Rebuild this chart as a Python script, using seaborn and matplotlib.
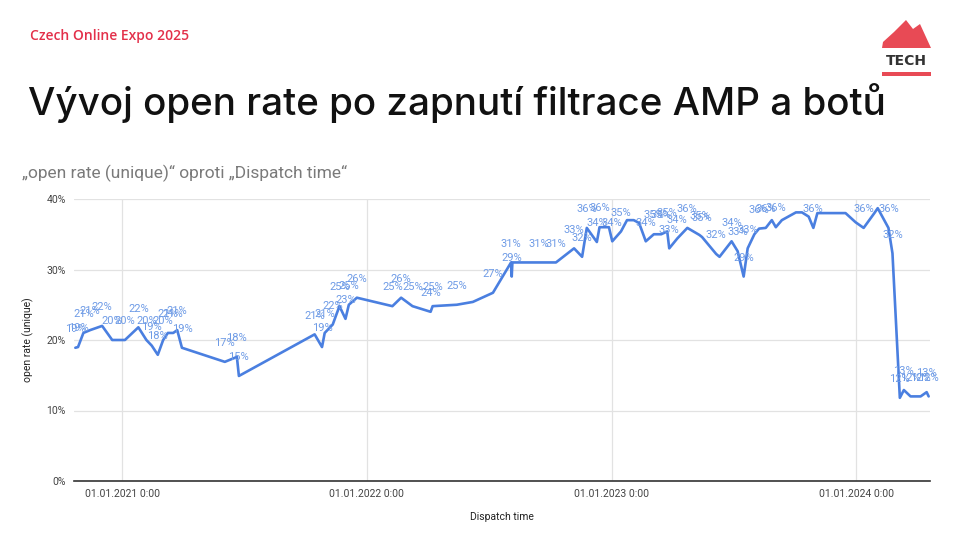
import matplotlib
matplotlib.use("Agg")
import matplotlib.pyplot as plt
import matplotlib.dates as mdates
from matplotlib.patches import Polygon, Rectangle
import seaborn as sns
import pandas as pd

# data (open rate in %)
dates = [
    "2020-10-23", "2020-10-27", "2020-11-04", "2020-11-14", "2020-12-02", "2020-12-17",
    "2021-01-05", "2021-01-25", "2021-02-06", "2021-02-14", "2021-02-23", "2021-03-03",
    "2021-03-10", "2021-03-18", "2021-03-24", "2021-03-31", "2021-06-03", "2021-06-21",
    "2021-06-24", "2021-10-15", "2021-10-26", "2021-10-30", "2021-11-11", "2021-11-21",
    "2021-11-30", "2021-12-05", "2021-12-17", "2022-02-08", "2022-02-21", "2022-03-10",
    "2022-04-06", "2022-04-09", "2022-05-15", "2022-06-08", "2022-07-08", "2022-08-04",
    "2022-08-05", "2022-08-06", "2022-09-15", "2022-10-10", "2022-11-06", "2022-11-18",
    "2022-11-25", "2022-12-10", "2022-12-14", "2022-12-28", "2023-01-02", "2023-01-15",
    "2023-01-24", "2023-02-03", "2023-02-11", "2023-02-21", "2023-03-05", "2023-03-16",
    "2023-03-25", "2023-03-28", "2023-04-09", "2023-04-24", "2023-05-12", "2023-05-16",
    "2023-06-06", "2023-06-11", "2023-06-29", "2023-07-08", "2023-07-17", "2023-07-23",
    "2023-08-02", "2023-08-09", "2023-08-19", "2023-08-28", "2023-09-03", "2023-09-12",
    "2023-10-03", "2023-10-12", "2023-10-22", "2023-10-29", "2023-11-04", "2023-12-16",
    "2023-12-31", "2024-01-12", "2024-01-28", "2024-02-02", "2024-02-18", "2024-02-24",
    "2024-03-06", "2024-03-12", "2024-03-22", "2024-04-06", "2024-04-15", "2024-04-18",
]
open_rate = [
    18.9, 19.0, 21.0, 21.4, 22.0, 20.0,
    20.0, 21.8, 20.0, 19.2, 17.9, 20.0,
    21.0, 21.0, 21.4, 18.9, 16.9, 17.6,
    14.9, 20.8, 19.0, 21.0, 22.2, 24.8,
    23.0, 25.0, 26.0, 24.8, 26.0, 24.8,
    24.0, 24.8, 25.0, 25.4, 26.7, 31.0,
    29.0, 31.0, 31.0, 31.0, 33.0, 31.8,
    35.9, 33.9, 36.0, 36.0, 34.0, 35.4,
    37.0, 37.0, 36.6, 34.0, 35.0, 35.0,
    35.4, 33.0, 34.4, 35.9, 34.9, 34.6,
    32.2, 31.8, 34.0, 32.6, 29.0, 33.0,
    35.0, 35.8, 35.9, 37.0, 36.0, 37.0,
    38.1, 38.1, 37.5, 35.9, 38.0, 38.0,
    36.7, 35.9, 38.0, 38.7, 35.9, 32.3,
    11.8, 12.9, 12.0, 12.0, 12.6, 12.0,
]
# which points carry a data label in the original
labeled = [
    1, 1, 1, 1, 1, 1,
    1, 1, 1, 1, 1, 1,
    1, 1, 1, 1, 1, 1,
    1, 1, 1, 1, 1, 1,
    1, 1, 1, 1, 1, 1,
    1, 1, 1, 0, 1, 1,
    1, 0, 1, 1, 1, 1,
    1, 1, 1, 0, 1, 1,
    0, 0, 0, 1, 1, 1,
    1, 1, 1, 1, 1, 1,
    1, 0, 1, 1, 1, 1,
    0, 1, 1, 0, 1, 0,
    0, 0, 0, 1, 0, 0,
    0, 1, 0, 0, 1, 1,
    1, 1, 1, 1, 1, 1,
]

df = pd.DataFrame({"Dispatch time": pd.to_datetime(dates),
                   "open rate (unique)": open_rate,
                   "labeled": labeled})

LINE = "#4a7fe0"
LABEL = "#6e9be6"

sns.set_style("white")
plt.rcParams["font.family"] = ["Roboto", "DejaVu Sans"]

fig = plt.figure(figsize=(9.6, 5.4), dpi=100)
ax = fig.add_axes([74 / 960, 59 / 540, 856 / 960, 282 / 540])

sns.lineplot(data=df, x="Dispatch time", y="open rate (unique)", ax=ax,
             color=LINE, linewidth=1.9)

for _, r in df[df["labeled"] == 1].iterrows():
    ax.annotate(f"{round(r['open rate (unique)'])}%",
                (r["Dispatch time"], r["open rate (unique)"]),
                xytext=(0, 13.5), textcoords="offset points",
                ha="center", va="center", fontsize=8, color=LABEL)

ax.set_ylim(0, 40)
ax.set_yticks([0, 10, 20, 30, 40])
ax.set_yticklabels([f"{t}%" for t in [0, 10, 20, 30, 40]])
ax.set_xlim(pd.Timestamp("2020-10-21"), pd.Timestamp("2024-04-20"))
ax.xaxis.set_major_locator(mdates.YearLocator())
ax.xaxis.set_major_formatter(mdates.DateFormatter("%d.%m.%Y 0:00"))

ax.grid(True, color="#e2e2e2", linewidth=0.9)
ax.set_axisbelow(True)
for s in ["top", "right", "left"]:
    ax.spines[s].set_visible(False)
ax.spines["bottom"].set_color("#333333")
ax.spines["bottom"].set_linewidth(1.2)
ax.tick_params(axis="both", length=0, labelsize=7.5, colors="#444444", pad=6)
ax.set_xlabel("Dispatch time", fontsize=7.5, color="#222222", labelpad=9)
ax.set_ylabel("open rate (unique)", fontsize=7.5, color="#222222", labelpad=9)

# header
fig.text(30 / 960, 1 - 36 / 540, "Czech Online Expo 2025", fontsize=10,
         color="#e3304a", va="center", fontweight="semibold",
         family=["Open Sans", "DejaVu Sans"])
fig.text(28 / 960, 1 - 103 / 540, "Vývoj open rate po zapnutí filtrace AMP a botů",
         fontsize=27.8, color="#111111", va="center", fontweight="medium",
         family=["Inter", "DejaVu Sans"])
fig.text(22 / 960, 1 - 173 / 540, "„open rate (unique)“ oproti „Dispatch time“",
         fontsize=12.5, color="#7a7a7a", va="center")

# logo
mountain = [(882, 48), (883, 42), (894, 32), (906, 20), (913, 29), (920, 24), (931, 48)]
fig.patches.append(Polygon([(x / 960, 1 - y / 540) for x, y in mountain],
                           closed=True, transform=fig.transFigure,
                           facecolor="#e84a55", edgecolor="none"))
fig.patches.append(Rectangle((882 / 960, 1 - 76 / 540), 49 / 960, 4 / 540,
                             transform=fig.transFigure,
                             facecolor="#e84a55", edgecolor="none"))
fig.text(906 / 960, 1 - 61 / 540, "TECH", fontsize=10, fontweight="bold",
         color="#333333", ha="center", va="center",
         family=["DejaVu Sans"])

fig.savefig("out.png", dpi=100)
